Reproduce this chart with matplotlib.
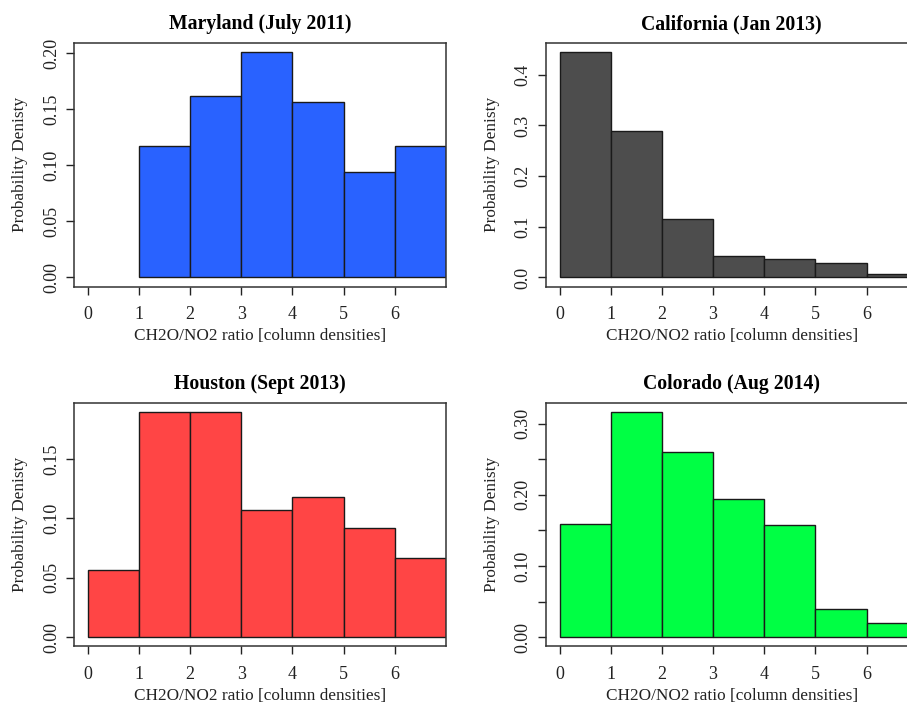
import numpy as np
import matplotlib
matplotlib.use('Agg')
import matplotlib.pyplot as plt

plt.rcParams['font.family'] = ['Liberation Serif', 'DejaVu Serif']

# bin edges shared by all histograms (unit-width bins of the ratio)
edges = [0, 1, 2, 3, 4, 5, 6, 7]

# probability density per bin
maryland = [0.0, 0.1175, 0.1617, 0.2012, 0.1563, 0.0945, 0.1175]
california = [0.445, 0.2897, 0.1164, 0.0417, 0.0357, 0.029, 0.006]
houston = [0.0568, 0.1898, 0.1898, 0.107, 0.118, 0.0918, 0.067]
colorado = [0.159, 0.317, 0.261, 0.194, 0.158, 0.040, 0.0198]

titles = ['Maryland (July 2011)', 'California (Jan 2013)',
          'Houston (Sept 2013)', 'Colorado (Aug 2014)']
colors = ['#2962FF', '#4D4D4D', '#FF4545', '#00FF44']

maryland_ticks = [0.00, 0.05, 0.10, 0.15, 0.20]
maryland_labels = ['0.00', '0.05', '0.10', '0.15', '0.20']
california_ticks = [0.0, 0.1, 0.2, 0.3, 0.4]
california_labels = ['0.0', '0.1', '0.2', '0.3', '0.4']
houston_ticks = [0.00, 0.05, 0.10, 0.15]
houston_labels = ['0.00', '0.05', '0.10', '0.15']
colorado_ticks = [0.00, 0.05, 0.10, 0.15, 0.20, 0.25, 0.30]
colorado_labels = ['0.00', '', '0.10', '', '0.20', '', '0.30']

xticks = [0, 1, 2, 3, 4, 5, 6]

fig = plt.figure(figsize=(9.07, 7.05), dpi=100)

W, H = 907.0, 705.0
boxw = 372.0
boxh = 243.5
# (left, top) of each plot box in pixels
corners = [(74, 43), (545.7, 43), (74, 402.7), (545.7, 402.7)]

data = [maryland, california, houston, colorado]
yt = [(maryland_ticks, maryland_labels), (california_ticks, california_labels),
      (houston_ticks, houston_labels), (colorado_ticks, colorado_labels)]

for i in range(4):
    l, t = corners[i]
    ax = fig.add_axes([l / W, 1 - (t + boxh) / H, boxw / W, boxh / H])
    vals = np.array(data[i])
    left = np.array(edges[:-1])
    nz = vals > 0
    ax.bar(left[nz], vals[nz], width=1.0, align='edge', color=colors[i],
           edgecolor='#1a1a1a', linewidth=1.0)
    top = vals.max()
    ax.set_ylim(-0.04 * top, 1.04 * top)
    ax.set_xlim(-0.27, 7.0)
    ax.set_xticks(xticks)
    ax.set_xticklabels([str(x) for x in xticks])
    ax.set_yticks(yt[i][0])
    ax.set_yticklabels(yt[i][1], rotation=90, va='center')
    ax.tick_params(direction='out', length=6, width=1, labelsize=13, pad=4,
                   colors='#222222')
    ax.tick_params(axis='x', pad=8)
    for s in ax.spines.values():
        s.set_linewidth(1.1)
        s.set_color('#333333')
    ax.set_title(titles[i], fontsize=14.2, fontweight='bold', pad=10)
    ax.set_xlabel('CH2O/NO2 ratio [column densities]', fontsize=12.4, labelpad=4,
                  color='#222222')
    ax.set_ylabel('Probability Denisty', fontsize=12.4, labelpad=11, color='#222222')

fig.savefig('out.png', dpi=100)
